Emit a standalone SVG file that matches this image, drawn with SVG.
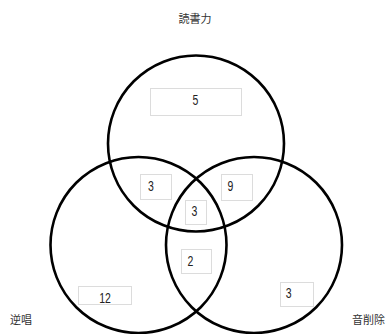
<svg xmlns="http://www.w3.org/2000/svg" width="387" height="334" viewBox="0 0 387 334">
<style>
.set{fill:none;stroke:#000;stroke-width:2.6}
.box{fill:#fff;stroke:#dcdcdc;stroke-width:1}
.num{font-family:"Liberation Sans",Arial,sans-serif;font-size:15px;fill:#222;text-anchor:middle}
.lbl{font-family:"Noto Sans CJK JP","Noto Sans CJK SC",sans-serif;font-size:11px;fill:#333}
</style>
<rect width="387" height="334" fill="#fff"/>
<g id="sets">
<circle id="set-dokusho" class="set" cx="196" cy="143.5" r="88"/>
<circle id="set-gyakusho" class="set" cx="138.5" cy="245" r="88"/>
<circle id="set-onsakujo" class="set" cx="254" cy="245" r="88"/>
</g>
<g id="connectors"></g>
<g id="r-top"><rect class="box" x="150.5" y="88.5" width="91" height="27"/><text class="num" transform="translate(195.5 104.5) scale(0.7 1)">5</text></g>
<g id="r-topleft"><rect class="box" x="140.5" y="174.5" width="31" height="25"/><text class="num" transform="translate(151 191) scale(0.7 1)">3</text></g>
<g id="r-topright"><rect class="box" x="221.5" y="174.5" width="31" height="26"/><text class="num" transform="translate(230.5 190.5) scale(0.7 1)">9</text></g>
<g id="r-center"><rect class="box" x="185.5" y="200.5" width="21" height="24"/><text class="num" transform="translate(194.5 216) scale(0.7 1)">3</text></g>
<g id="r-bottom"><rect class="box" x="181.5" y="249.5" width="30" height="24"/><text class="num" transform="translate(190.5 265.5) scale(0.7 1)">2</text></g>
<g id="r-left"><rect class="box" x="78.5" y="286.5" width="53" height="18"/><text class="num" transform="translate(105 302.5) scale(0.7 1)">12</text></g>
<g id="r-right"><rect class="box" x="280.5" y="282.5" width="33" height="24"/><text class="num" transform="translate(288.7 298) scale(0.7 1)">3</text></g>
<g id="label-dokusho"><text class="lbl" x="195" y="22.5" text-anchor="middle">読書力</text></g>
<g id="label-gyakusho"><text class="lbl" x="10" y="324">逆唱</text></g>
<g id="label-onsakujo"><text class="lbl" x="352" y="324">音削除</text></g>
</svg>
